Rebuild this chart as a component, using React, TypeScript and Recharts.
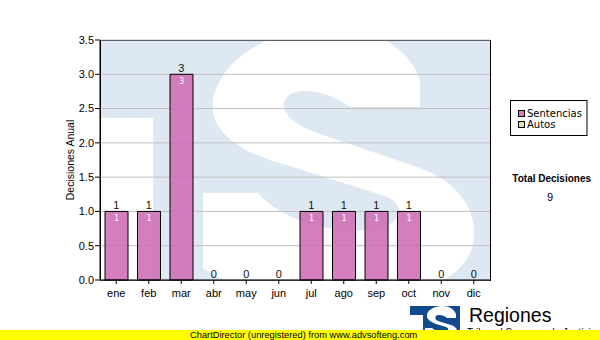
import React from 'react';
import { ComposedChart, Bar, Line, XAxis, YAxis, CartesianGrid, LabelList, Legend } from 'recharts';

const months = ['ene', 'feb', 'mar', 'abr', 'may', 'jun', 'jul', 'ago', 'sep', 'oct', 'nov', 'dic'];
const sentencias = [1, 1, 3, 0, 0, 0, 1, 1, 1, 1, 0, 0];
const autos = [0, 0, 0, 0, 0, 0, 0, 0, 0, 0, 0, 0];
const yTicks = [0, 0.5, 1, 1.5, 2, 2.5, 3, 3.5];
const seriesNames = ['Sentencias', 'Autos'];
const seriesColors = ['#d878bf', '#d6e7a6'];

const data = months.map((m, i) => ({
  month: m,
  Sentencias: sentencias[i],
  Autos: autos[i],
  total: sentencias[i] + autos[i],
}));
const grandTotal = data.reduce((s, d) => s + d.total, 0);

const FONT = '"Liberation Sans", Arial, sans-serif';

// watermark "S" outline (decoration only)
const S_PATH =
  'M 420,80 L 420,107 L 350,107 C 330,92 300,86 288,96 C 276,108 290,124 320,134 L 420,168 ' +
  'C 468,186 480,222 472,248 C 460,285 405,302 340,300 C 280,298 230,288 203,268 L 203,193 L 258,193 ' +
  'C 282,220 325,232 365,230 C 402,228 410,206 385,196 L 270,160 C 225,145 205,120 215,92 ' +
  'C 228,50 285,26 335,26 C 370,26 410,48 420,80 Z';

const LOGO_S =
  'M 456,314 L 456,318 L 447,318 C 444,315 438,314 436,316 C 434,319 437,321 441,322 L 451,325 ' +
  'C 458,327 459,333 455,336 L 425,336 L 425,328 L 432,328 C 435,331 441,332 446,331 C 449,330 449,328 446,327 ' +
  'L 436,324 C 428,321 425,317 428,312 C 431,308 437,306 443,306 C 449,306 454,309 456,314 Z';

const LegendBox = () => (
  <svg width={78} height={36} style={{ display: 'block' }}>
    <rect x={0.5} y={0.5} width={76.5} height={35} fill="#fff" stroke="#000" />
    {seriesNames.map((n, i) => (
      <g key={n}>
        <rect x={8.5} y={10.5 + i * 11} width={6} height={6} fill={seriesColors[i]} stroke="#000" />
        <text x={17} y={17.3 + i * 11} fontSize={10} fontFamily='"DejaVu Sans", sans-serif' fill="#000">
          {n}
        </text>
      </g>
    ))}
  </svg>
);

export default function App() {
  return (
    <div style={{ position: 'absolute', left: 0, top: 0, width: 600, height: 340, background: '#fff', fontFamily: FONT, overflow: 'hidden' }}>
      {/* watermark behind plot */}
      <svg width={600} height={340} style={{ position: 'absolute', left: 0, top: 0 }}>
        <defs>
          <clipPath id="plotClip">
            <rect x={100} y={40} width={390} height={240} />
          </clipPath>
        </defs>
        <g clipPath="url(#plotClip)">
          <rect x={100} y={40} width={390} height={240} fill="#dee8f2" />
          <rect x={100} y={118} width={53} height={162} fill="#fff" />
          <path d={S_PATH} fill="#fff" />
        </g>
        <rect x={100.5} y={40.5} width={390} height={240} fill="none" stroke="#000" />
      </svg>

      <div style={{ position: 'absolute', left: 0, top: 0 }}>
        <ComposedChart width={600} height={340} data={data} margin={{ top: 40, right: 110, bottom: 30, left: 40 }}>
          <CartesianGrid horizontal vertical={false} stroke="#c0c0c0" />
          <XAxis
            dataKey="month"
            height={30}
            interval={0}
            tickSize={4}
            tickMargin={5}
            axisLine={{ stroke: '#000' }}
            tickLine={{ stroke: '#000' }}
            tick={{ fill: '#000', fontSize: 11, fontFamily: FONT }}
          />
          <YAxis
            width={60}
            domain={[0, 3.5]}
            ticks={yTicks}
            interval={0}
            tickSize={5}
            tickMargin={1}
            tickFormatter={(v: number) => v.toFixed(1)}
            axisLine={{ stroke: '#000' }}
            tickLine={{ stroke: '#000' }}
            tick={{ fill: '#000', fontSize: 11, fontFamily: FONT }}
            label={{ value: 'Decisiones Anual', angle: -90, position: 'center', fill: '#000', fontSize: 10.5, fontFamily: FONT }}
          />
          <Legend layout="vertical" align="center" verticalAlign="middle" wrapperStyle={{ left: 510, top: 100, width: 78, height: 36 }} content={() => <LegendBox />} />
          <Bar dataKey="Sentencias" name={seriesNames[0]} stackId="a" fill="#cf6cb5" fillOpacity={0.88} stroke="#000" strokeWidth={1} barSize={23} isAnimationActive={false}>
            <LabelList dataKey="Sentencias" position="insideTop" offset={4} fill="#fff" fontSize={8} fontFamily='"DejaVu Sans", sans-serif' formatter={(v: any) => (v ? v : '')} />
          </Bar>
          <Bar dataKey="Autos" name={seriesNames[1]} stackId="a" fill={seriesColors[1]} stroke="#000" strokeWidth={1} barSize={23} isAnimationActive={false} />
          <Line dataKey="total" stroke="none" dot={false} activeDot={false} legendType="none" isAnimationActive={false}>
            <LabelList dataKey="total" position="top" offset={2} fill="#111" fontSize={11} fontFamily={FONT} />
          </Line>
        </ComposedChart>
      </div>

      {/* totals + footer */}
      <svg width={600} height={340} style={{ position: 'absolute', left: 0, top: 0, pointerEvents: 'none' }}>
        <text x={551.7} y={181.7} textAnchor="middle" fontSize={10} fontWeight="bold" fontFamily={FONT} fill="#000">
          Total Decisiones
        </text>
        <text x={550} y={201} textAnchor="middle" fontSize={11} fontFamily={FONT} fill="#000">
          {grandTotal}
        </text>
        {/* small logo */}
        <rect x={410} y={306} width={50} height={30} fill="#124a8e" />
        <rect x={410} y={315} width={13} height={21} fill="#fff" />
        <path d={LOGO_S} fill="#fff" />
        <text x={469} y={322} fontSize={19.5} fontFamily={FONT} fill="#000">
          Regiones
        </text>
        <text x={467} y={336} fontSize={10} fontFamily={FONT} fill="#000">
          Tribunal Supremo de Justicia
        </text>
        <rect x={0} y={330} width={600} height={10} fill="#ffff00" />
        <text x={190} y={337.5} fontSize={9.3} fontFamily={FONT} fill="#000">
          ChartDirector (unregistered) from www.advsofteng.com
        </text>
      </svg>
    </div>
  );
}
